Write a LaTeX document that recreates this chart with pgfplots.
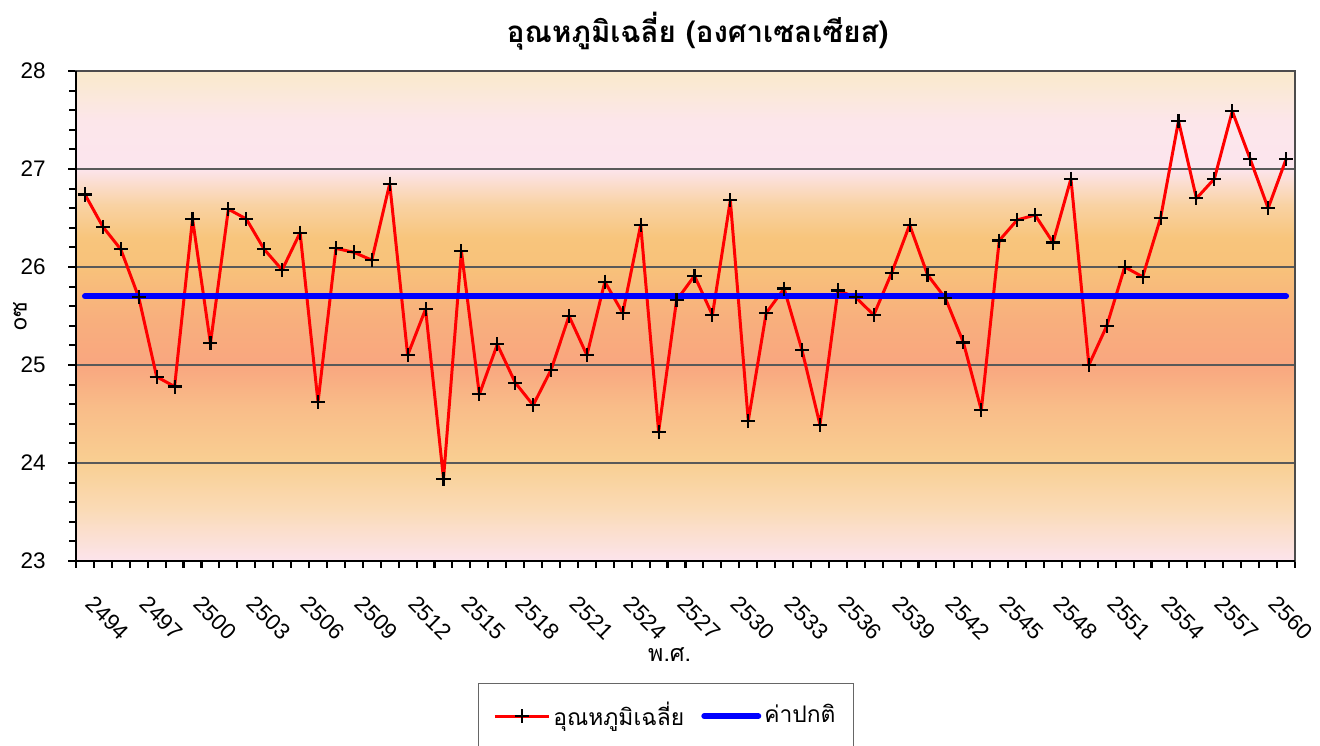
\documentclass[border=0pt]{standalone}
\usepackage{pgfplots}
\pgfplotsset{compat=1.18}
\usepackage{pgfplotstable}
\usepackage{fontspec}
\setmainfont{Liberation Sans}
\newfontfamily\thaifont[Script=Thai]{Loma}

\definecolor{cA}{HTML}{FCE4EC}% 23.0
\definecolor{cB}{HTML}{FADBB8}% 23.5
\definecolor{cC}{HTML}{F9CF92}% 24.0
\definecolor{cD}{HTML}{F9BB88}% 24.6
\definecolor{cE}{HTML}{F9A67F}% 25.0
\definecolor{cF}{HTML}{F8B07D}% 25.5
\definecolor{cG}{HTML}{F8C27A}% 26.0
\definecolor{cH}{HTML}{F8C57C}% 26.3
\definecolor{cI}{HTML}{F9D3A6}% 26.65
\definecolor{cJ}{HTML}{FCE5EE}% 27.0
\definecolor{cK}{HTML}{FCE6EA}% 27.5
\definecolor{cL}{HTML}{F9EACB}% 28.0

\pgfplotstableread{
year val
2494 26.74
2495 26.41
2496 26.18
2497 25.69
2498 24.88
2499 24.78
2500 26.49
2501 25.22
2502 26.59
2503 26.49
2504 26.18
2505 25.97
2506 26.35
2507 24.62
2508 26.19
2509 26.15
2510 26.07
2511 26.85
2512 25.10
2513 25.57
2514 23.84
2515 26.16
2516 24.70
2517 25.21
2518 24.82
2519 24.59
2520 24.95
2521 25.50
2522 25.10
2523 25.85
2524 25.53
2525 26.43
2526 24.32
2527 25.66
2528 25.91
2529 25.51
2530 26.68
2531 24.43
2532 25.53
2533 25.78
2534 25.15
2535 24.39
2536 25.76
2537 25.69
2538 25.51
2539 25.94
2540 26.43
2541 25.92
2542 25.68
2543 25.23
2544 24.54
2545 26.27
2546 26.48
2547 26.53
2548 26.25
2549 26.90
2550 25.00
2551 25.40
2552 26.00
2553 25.90
2554 26.50
2555 27.49
2556 26.70
2557 26.90
2558 27.59
2559 27.10
2560 26.60
2561 27.10
}\temps

\pgfplotstableread{
year val
2494 25.7
2561 25.7
}\normal

\begin{document}
\begin{tikzpicture}
\begin{axis}[
  at={(7.6mm,18.5mm)}, anchor=south west,
  scale only axis, width=121.9mm, height=49mm,
  set layers,
  xmin=2493.5, xmax=2561.5, ymin=23, ymax=28,
  xtick={2494,2497,...,2560},
  minor xtick={2493.5,2494.5,...,2561.5},
  major x tick style={draw=none},
  ytick={23,24,25,26,27,28},
  minor y tick num=4,
  xtick pos=lower, ytick pos=left,
  tick align=outside,
  major tick length=0.8mm,
  minor tick length=0.7mm,
  tick style={black, line width=0.6pt},
  ymajorgrids,
  grid style={draw=black!65, line width=0.45pt},
  axis line style={draw=black!70, line width=0.4pt},
  /pgf/number format/assume math mode=true,
  /pgf/number format/1000 sep={},
  ticklabel style={font=\fontsize{6.4}{7}\selectfont},
  xticklabel style={rotate=-45, anchor=north west, inner sep=0pt, yshift=-1.0mm, xshift=2.5mm},
  yticklabel style={xshift=-1.0mm},
  title={\thaifont\bfseries อุณหภูมิเฉลี่ย (องศาเซลเซียส)},
  title style={font=\fontsize{8.4}{9}\selectfont, at={(axis description cs:0.51,1)}, anchor=center, yshift=1.9mm},
  xlabel={\thaifont พ.ศ.},
  xlabel style={font=\fontsize{6.6}{7}\selectfont, at={(axis description cs:0.487,-0.192)}, anchor=center},
  ylabel={\thaifont oซ},
  ylabel style={font=\fontsize{6.6}{7}\selectfont, at={(axis description cs:-0.046,0.5)}, anchor=center, rotate=0},
  legend style={at={(axis description cs:0.484,-0.249)}, anchor=north, legend columns=2,
    draw=black!60, line width=0.4pt, font=\thaifont\fontsize{6.5}{8}\selectfont,
    inner xsep=1.5mm, inner ysep=1.1mm,
    nodes={inner xsep=0.3mm},
    /tikz/every even column/.append style={column sep=1.4mm}},
  legend image code/.code={\draw[mark repeat=2, mark phase=2, #1] plot coordinates {(0mm,0mm) (2.7mm,0mm) (5.4mm,0mm)};},
]
\begin{pgfonlayer}{axis background}
  \shade[bottom color=cA, top color=cB] (axis cs:2493.5,23) rectangle (axis cs:2561.5,23.51);
  \shade[bottom color=cB, top color=cC] (axis cs:2493.5,23.5) rectangle (axis cs:2561.5,24.01);
  \shade[bottom color=cC, top color=cD] (axis cs:2493.5,24) rectangle (axis cs:2561.5,24.61);
  \shade[bottom color=cD, top color=cE] (axis cs:2493.5,24.6) rectangle (axis cs:2561.5,25.01);
  \shade[bottom color=cE, top color=cF] (axis cs:2493.5,25) rectangle (axis cs:2561.5,25.51);
  \shade[bottom color=cF, top color=cG] (axis cs:2493.5,25.5) rectangle (axis cs:2561.5,26.01);
  \shade[bottom color=cG, top color=cH] (axis cs:2493.5,26) rectangle (axis cs:2561.5,26.31);
  \shade[bottom color=cH, top color=cI] (axis cs:2493.5,26.3) rectangle (axis cs:2561.5,26.66);
  \shade[bottom color=cI, top color=cJ] (axis cs:2493.5,26.65) rectangle (axis cs:2561.5,27.01);
  \shade[bottom color=cJ, top color=cK] (axis cs:2493.5,27) rectangle (axis cs:2561.5,27.51);
  \shade[bottom color=cK, top color=cL] (axis cs:2493.5,27.5) rectangle (axis cs:2561.5,28);
\end{pgfonlayer}
\begin{pgfonlayer}{axis foreground}
  \draw[black, line width=0.75pt] (rel axis cs:0,1) -- (rel axis cs:0,0) -- (rel axis cs:1,0);
\end{pgfonlayer}
\addplot[red, line width=0.85pt, line join=round, mark=+, mark size=2pt, mark options={black, line width=0.6pt}] table[x=year, y=val] {\temps};
\addlegendentry{อุณหภูมิเฉลี่ย}
\addplot[blue, line width=1.7pt, line cap=round] table[x=year, y=val] {\normal};
\addlegendentry{ค่าปกติ}
\end{axis}
\pgfresetboundingbox
\useasboundingbox (0,0) rectangle (132mm,74.6mm);
\end{tikzpicture}
\end{document}
